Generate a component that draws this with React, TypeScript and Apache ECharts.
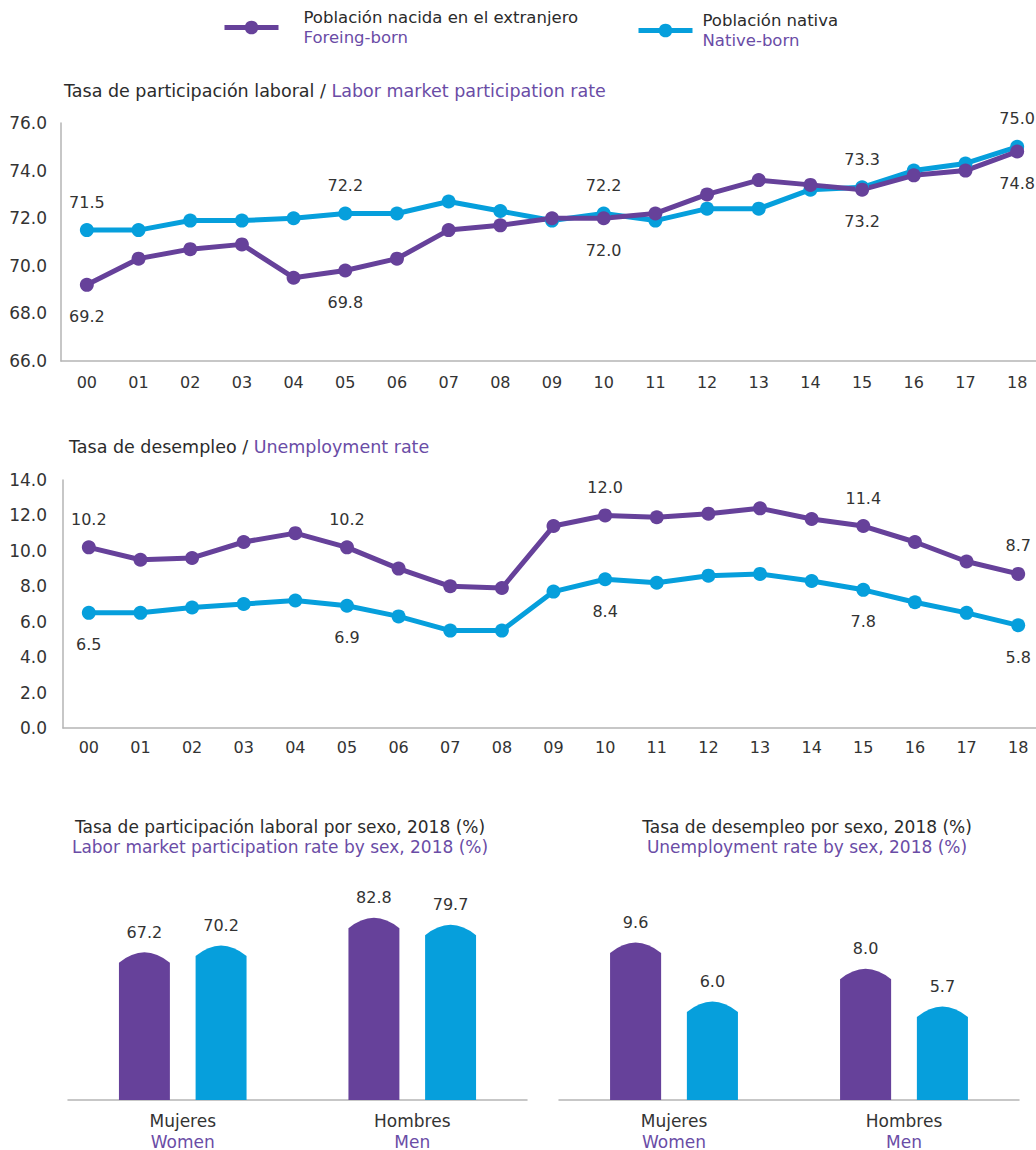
import React, { useEffect, useRef } from "react";
import * as echarts from "echarts";

// ---------- data ----------
const years = ["00", "01", "02", "03", "04", "05", "06", "07", "08", "09", "10", "11", "12", "13", "14", "15", "16", "17", "18"];
const partForeign = [69.2, 70.3, 70.7, 70.9, 69.5, 69.8, 70.3, 71.5, 71.7, 72.0, 72.0, 72.2, 73.0, 73.6, 73.4, 73.2, 73.8, 74.0, 74.8];
const partNative = [71.5, 71.5, 71.9, 71.9, 72.0, 72.2, 72.2, 72.7, 72.3, 71.9, 72.2, 71.9, 72.4, 72.4, 73.2, 73.3, 74.0, 74.3, 75.0];
const unempForeign = [10.2, 9.5, 9.6, 10.5, 11.0, 10.2, 9.0, 8.0, 7.9, 11.4, 12.0, 11.9, 12.1, 12.4, 11.8, 11.4, 10.5, 9.4, 8.7];
const unempNative = [6.5, 6.5, 6.8, 7.0, 7.2, 6.9, 6.3, 5.5, 5.5, 7.7, 8.4, 8.2, 8.6, 8.7, 8.3, 7.8, 7.1, 6.5, 5.8];
const labeledYears = [0, 5, 10, 15, 18];

const partTicks = { min: 66, max: 76, interval: 2 };
const unempTicks = { min: 0, max: 14, interval: 2 };

const sexLabels = ["Mujeres", "Hombres"];
const sexLabelsEn = ["Women", "Men"];
const partSexForeign = [67.2, 82.8];
const partSexNative = [70.2, 79.7];
const unempSexForeign = [9.6, 8.0];
const unempSexNative = [6.0, 5.7];

const nameForeign = "Población nacida en el extranjero";
const nameNative = "Población nativa";
const enForeign = "Foreing-born";
const enNative = "Native-born";

// ---------- styles ----------
const PURPLE = "#66419a";
const BLUE = "#069fdc";
const PURPLE_TXT = "#6a4ca6";
const DARK = "#2b2b2b";
const AXIS = "#b5b5b5";
const MONT = "'DejaVu Sans', sans-serif";

function lineData(values: number[], showPos: string) {
  return values.map((v, i) =>
    labeledYears.includes(i)
      ? { value: v, label: { show: true, position: showPos, distance: showPos === "top" ? 13 : 17 } }
      : { value: v }
  );
}

function lineSeries(name: string, values: number[], color: string, idx: number, pos: string) {
  return {
    type: "line",
    name,
    xAxisIndex: idx,
    yAxisIndex: idx,
    data: lineData(values, pos),
    symbol: "circle",
    symbolSize: 14,
    lineStyle: { width: 5, color },
    itemStyle: { color },
    label: {
      show: false,
      color: "#333",
      fontSize: 16,
      fontFamily: MONT,
      formatter: (p: any) => Number(p.value).toFixed(1),
    },
  };
}

function domeSeries(name: string, values: number[], color: string, idx: number, side: number) {
  return {
    type: "custom",
    name,
    xAxisIndex: idx,
    yAxisIndex: idx,
    data: values.map((v, i) => [i, v]),
    encode: { x: 0, y: 1 },
    renderItem: (params: any, api: any) => {
      const ci = api.value(0);
      const val = api.value(1);
      const top = api.coord([ci, val]);
      const base = api.coord([ci, 0]);
      const band = api.size([1, 0])[0];
      const w = band * 0.222;
      const cx = top[0] + side * band * 0.167;
      const x0 = cx - w / 2;
      const x1 = cx + w / 2;
      const h = 10.5;
      const sh = top[1] + h;
      const d = `M${x0} ${base[1]} L${x0} ${sh} Q${cx} ${top[1] - h} ${x1} ${sh} L${x1} ${base[1]} Z`;
      return {
        type: "group",
        children: [
          { type: "path", shape: { pathData: d }, style: { fill: color } },
          {
            type: "text",
            style: {
              text: Number(val).toFixed(1),
              x: cx,
              y: top[1] - 20,
              align: "center",
              verticalAlign: "middle",
              textAlign: "center",
              textVerticalAlign: "middle",
              fill: "#333",
              fontSize: 16,
              fontFamily: MONT,
            },
          },
        ],
      };
    },
  };
}

function yearAxis(gridIndex: number, margin: number) {
  return {
    type: "category",
    gridIndex,
    data: years,
    boundaryGap: true,
    axisLine: { show: true, lineStyle: { color: AXIS, width: 1.5 } },
    axisTick: { show: false },
    axisLabel: { margin, color: "#333", fontSize: 16, fontFamily: MONT },
  };
}

function valueAxis(gridIndex: number, t: { min: number; max: number; interval: number }, margin: number) {
  return {
    type: "value",
    gridIndex,
    min: t.min,
    max: t.max,
    interval: t.interval,
    axisLine: { show: true, lineStyle: { color: AXIS, width: 1.5 } },
    axisTick: { show: false },
    splitLine: { show: false },
    axisLabel: {
      margin,
      color: "#333",
      fontSize: 17,
      fontFamily: MONT,
      formatter: (v: number) => v.toFixed(1),
    },
  };
}

function sexAxis(gridIndex: number) {
  return {
    type: "category",
    gridIndex,
    data: sexLabels,
    boundaryGap: true,
    axisLine: { show: true, lineStyle: { color: AXIS, width: 1.5 } },
    axisTick: { show: false },
    axisLabel: {
      margin: 10,
      formatter: (v: string, i: number) => `{a|${v}}\n{b|${sexLabelsEn[i]}}`,
      rich: {
        a: { color: "#333", fontSize: 17, fontFamily: MONT, lineHeight: 21 },
        b: { color: PURPLE_TXT, fontSize: 17, fontFamily: MONT, lineHeight: 21 },
      },
    },
  };
}

function legendFor(name: string, en: string, left: number, top: number, pad: number) {
  return {
    data: [name],
    left,
    top,
    itemWidth: 54,
    itemHeight: 17,
    selectedMode: false,
    lineStyle: { width: 5 },
    formatter: () => `{a|${name}}\n{b|${en}}`,
    textStyle: {
      rich: {
        a: { color: DARK, fontSize: 16.5, fontFamily: MONT, lineHeight: 20, padding: [0, 0, 0, pad] },
        b: { color: PURPLE_TXT, fontSize: 16.5, fontFamily: MONT, lineHeight: 20, padding: [0, 0, 0, pad] },
      },
    },
  };
}

function centerText(text: string, x: number, y: number, fill: string) {
  return {
    type: "text",
    x,
    y,
    style: { text, fill, fontSize: 17, fontFamily: MONT, align: "center", verticalAlign: "middle" },
  };
}

export default function App() {
  const ref = useRef<HTMLDivElement>(null);
  useEffect(() => {
    if (!ref.current) return;
    const chart = echarts.init(ref.current, null, { renderer: "svg" });
    chart.setOption({
      animation: false,
      backgroundColor: "#ffffff",
      legend: [
        legendFor(nameForeign, enForeign, 217, 4, 20),
        legendFor(nameNative, enNative, 631, 7, 5),
      ],
      grid: [
        { left: 61, top: 123, width: 982, height: 238 },
        { left: 63, top: 480, width: 981, height: 248 },
        { left: 68, top: 880, width: 459, height: 220 },
        { left: 559, top: 903.2, width: 460, height: 196.8 },
      ],
      xAxis: [yearAxis(0, 13), yearAxis(1, 11), sexAxis(2), sexAxis(3)],
      yAxis: [
        valueAxis(0, partTicks, 14),
        valueAxis(1, unempTicks, 16),
        { type: "value", gridIndex: 2, min: 0, max: 100, show: false },
        { type: "value", gridIndex: 3, min: 0, max: 12, show: false },
      ],
      graphic: [
        {
          type: "text",
          left: 64,
          top: 82,
          style: {
            text: "{a|Tasa de participación laboral / }{b|Labor market participation rate}",
            rich: {
              a: { fill: DARK, fontSize: 17.5, fontFamily: MONT },
              b: { fill: PURPLE_TXT, fontSize: 17.5, fontFamily: MONT },
            },
          },
        },
        {
          type: "text",
          left: 69,
          top: 438,
          style: {
            text: "{a|Tasa de desempleo / }{b|Unemployment rate}",
            rich: {
              a: { fill: DARK, fontSize: 17.5, fontFamily: MONT },
              b: { fill: PURPLE_TXT, fontSize: 17.5, fontFamily: MONT },
            },
          },
        },
        centerText("Tasa de participación laboral por sexo, 2018 (%)", 280, 827, DARK),
        centerText("Labor market participation rate by sex, 2018 (%)", 280, 847, PURPLE_TXT),
        centerText("Tasa de desempleo por sexo, 2018 (%)", 807, 827, DARK),
        centerText("Unemployment rate by sex, 2018 (%)", 807, 847, PURPLE_TXT),
      ],
      series: [
        lineSeries(nameNative, partNative, BLUE, 0, "top"),
        lineSeries(nameForeign, partForeign, PURPLE, 0, "bottom"),
        lineSeries(nameNative, unempNative, BLUE, 1, "bottom"),
        lineSeries(nameForeign, unempForeign, PURPLE, 1, "top"),
        domeSeries(nameForeign, partSexForeign, PURPLE, 2, -1),
        domeSeries(nameNative, partSexNative, BLUE, 2, 1),
        domeSeries(nameForeign, unempSexForeign, PURPLE, 3, -1),
        domeSeries(nameNative, unempSexNative, BLUE, 3, 1),
      ],
    });
    return () => chart.dispose();
  }, []);
  return (
    <div style={{ position: "absolute", left: 0, top: 0, width: 1036, height: 1150, overflow: "hidden", background: "#fff" }}>
      <div ref={ref} style={{ width: 1052, height: 1150 }} />
    </div>
  );
}
